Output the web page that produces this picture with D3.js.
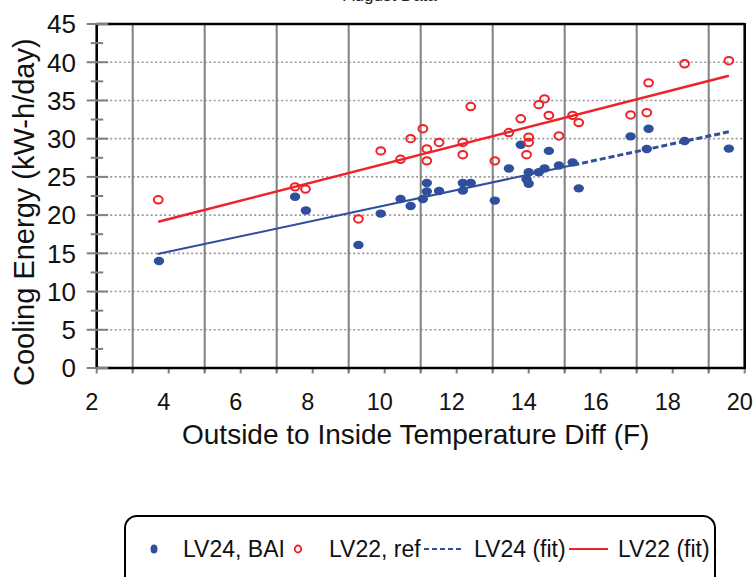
<!DOCTYPE html>
<html><head><meta charset="utf-8">
<script src="https://cdn.jsdelivr.net/npm/d3@7"></script>
<style>
html,body{margin:0;padding:0;background:#fff;}
svg{display:block;font-family:"Liberation Sans",Arial,sans-serif;}
</style></head>
<body>
<script>
// ---- data ----
const lv24X = [3.73,7.51,7.81,9.27,9.89,10.44,10.72,11.06,11.17,11.17,11.51,12.17,12.17,12.39,13.06,13.45,13.78,14.0,13.94,14.0,14.28,14.44,14.56,14.84,15.22,15.39,16.83,17.33,17.28,18.33,19.56];
const lv24Y = [14.0,22.4,20.6,16.1,20.2,22.1,21.2,22.1,24.2,23.1,23.15,24.2,23.2,24.2,21.9,26.1,29.2,25.6,24.7,24.1,25.6,26.1,28.4,26.5,26.9,23.5,30.3,31.3,28.65,29.7,28.7];
const lv22X = [3.71,7.51,7.8,9.27,9.89,10.44,10.72,11.06,11.17,11.17,11.51,12.17,12.17,12.39,13.06,13.45,13.78,14.0,14.0,13.94,14.28,14.44,14.56,14.84,15.22,15.39,16.83,17.28,17.33,18.33,19.56];
const lv22Y = [22.0,23.7,23.4,19.5,28.4,27.3,30.0,31.3,28.65,27.1,29.5,29.5,27.9,34.2,27.1,30.8,32.6,30.2,29.5,27.9,34.45,35.2,33.05,30.35,33.05,32.1,33.1,33.4,37.3,39.8,40.2];
const lv24FitSolid = [[3.69,14.9],[15.24,26.55]];
const lv24FitDashed = [[15.24,26.55],[19.56,30.9]];
const lv22Fit = [[3.71,19.14],[19.56,38.24]];
const xTickLabels = [2,4,6,8,10,12,14,16,18,20];
const yTickLabels = [0,5,10,15,20,25,30,35,40,45];
const legendLabels = ["LV24, BAI","LV22, ref","LV24 (fit)","LV22 (fit)"];
const titleText = "August Data";
const xTitle = "Outside to Inside Temperature Diff (F)";
const yTitle = "Cooling Energy (kW-h/day)";

const W = 754, H = 577;
const BLUE = "#2f4f9c", RED = "#ee2228", GRID = "#808080";
const svg = d3.select("body").append("svg").attr("width",W).attr("height",H);

const x = d3.scaleLinear().domain([2,20]).range([96.7,744.7]);
const y = d3.scaleLinear().domain([0,45]).range([368,24]);

// title (clipped at top, only its lowest strokes show)
svg.append("text").attr("x",390).attr("y",0.5).attr("text-anchor","middle")
  .attr("font-size",17).attr("fill","#222").text(titleText);

// horizontal dotted gridlines
svg.append("g").selectAll("line").data(d3.range(5,45,5)).join("line")
  .attr("x1",x(2)).attr("x2",x(20)).attr("y1",d=>y(d)).attr("y2",d=>y(d))
  .attr("stroke","#999").attr("stroke-width",1.6).attr("stroke-dasharray","2,2.5");

// vertical gridlines at odd values
svg.append("g").selectAll("line").data(d3.range(3,20,2)).join("line")
  .attr("x1",d=>x(d)).attr("x2",d=>x(d)).attr("y1",y(45)).attr("y2",y(0)+5)
  .attr("stroke",GRID).attr("stroke-width",2);

// x ticks (every unit, below axis)
svg.append("g").selectAll("line").data(d3.range(2,21,1)).join("line")
  .attr("x1",d=>x(d)).attr("x2",d=>x(d)).attr("y1",y(0)).attr("y2",y(0)+5.5)
  .attr("stroke",GRID).attr("stroke-width",2);

// frame
const fr = svg.append("g").attr("stroke","#000").attr("stroke-width",2.6).attr("fill","none");
fr.append("line").attr("x1",x(2)).attr("x2",x(20)).attr("y1",y(45)).attr("y2",y(45));
fr.append("line").attr("x1",x(2)).attr("x2",x(20)).attr("y1",y(0)).attr("y2",y(0));
fr.append("line").attr("x1",x(2)).attr("x2",x(2)).attr("y1",y(45)-1).attr("y2",y(0)+1);
fr.append("line").attr("x1",x(20)).attr("x2",x(20)).attr("y1",y(45)-1).attr("y2",y(0)+1);

// y ticks crossing left axis
svg.append("g").selectAll("line").data(d3.range(0,46,5)).join("line")
  .attr("x1",x(2)-10).attr("x2",x(2)+11.5).attr("y1",d=>y(d)).attr("y2",d=>y(d))
  .attr("stroke",GRID).attr("stroke-width",2);
svg.append("g").selectAll("line").data(d3.range(2.5,45,5)).join("line")
  .attr("x1",x(2)-6).attr("x2",x(2)+6.5).attr("y1",d=>y(d)).attr("y2",d=>y(d))
  .attr("stroke",GRID).attr("stroke-width",2);

// tick labels
svg.append("g").selectAll("text").data(yTickLabels).join("text")
  .attr("x",76).attr("y",d=>y(d)).attr("dy","0.36em").attr("text-anchor","end")
  .attr("font-size",26).attr("fill","#111").text(d=>d);
svg.append("g").selectAll("text").data(xTickLabels).join("text")
  .attr("x",d=>x(d)-5).attr("y",410).attr("text-anchor","middle")
  .attr("font-size",23.5).attr("fill","#111").text(d=>d);

// axis titles
svg.append("text").attr("x",(x(2)+x(20))/2-5).attr("y",444).attr("text-anchor","middle")
  .attr("font-size",28).attr("fill","#111").text(xTitle);
svg.append("text").attr("transform","translate(34,386) rotate(-90)").attr("text-anchor","start")
  .attr("font-size",29).attr("fill","#111").text(yTitle);

// fit lines
const line = d3.line().x(d=>x(d[0])).y(d=>y(d[1]));
svg.append("path").attr("d",line(lv24FitSolid)).attr("stroke",BLUE).attr("stroke-width",2).attr("fill","none");
svg.append("path").attr("d",line(lv24FitDashed)).attr("stroke",BLUE).attr("stroke-width",3).attr("stroke-dasharray","6,3").attr("fill","none");
svg.append("path").attr("d",line(lv22Fit)).attr("stroke",RED).attr("stroke-width",2.5).attr("fill","none");

// points
svg.append("g").selectAll("ellipse").data(lv24X).join("ellipse")
  .attr("cx",d=>x(d)).attr("cy",(d,i)=>y(lv24Y[i])).attr("rx",5.2).attr("ry",4.2)
  .attr("fill",BLUE);
svg.append("g").selectAll("ellipse").data(lv22X).join("ellipse")
  .attr("cx",d=>x(d)).attr("cy",(d,i)=>y(lv22Y[i])).attr("rx",4.4).attr("ry",3.7)
  .attr("fill","none").attr("stroke",RED).attr("stroke-width",2);

// legend
const lg = svg.append("g");
lg.append("rect").attr("x",125).attr("y",516).attr("width",590).attr("height",80).attr("rx",12)
  .attr("fill","#fff").attr("stroke","#000").attr("stroke-width",2);
const ly = 549;
lg.append("ellipse").attr("cx",154).attr("cy",ly).attr("rx",3.5).attr("ry",4.5).attr("fill",BLUE);
lg.append("ellipse").attr("cx",298).attr("cy",ly).attr("rx",3.2).attr("ry",3.5).attr("fill","none").attr("stroke",RED).attr("stroke-width",1.8);
lg.append("line").attr("x1",424).attr("x2",462).attr("y1",ly).attr("y2",ly).attr("stroke",BLUE).attr("stroke-width",2).attr("stroke-dasharray","5,3");
lg.append("line").attr("x1",569).attr("x2",608).attr("y1",ly).attr("y2",ly).attr("stroke",RED).attr("stroke-width",2);
const lx = [183,329,474,618];
lg.selectAll("text").data(legendLabels).join("text")
  .attr("x",(d,i)=>lx[i]).attr("y",ly).attr("dy","0.36em")
  .attr("font-size",23).attr("fill","#111").text(d=>d);
</script>
</body></html>
